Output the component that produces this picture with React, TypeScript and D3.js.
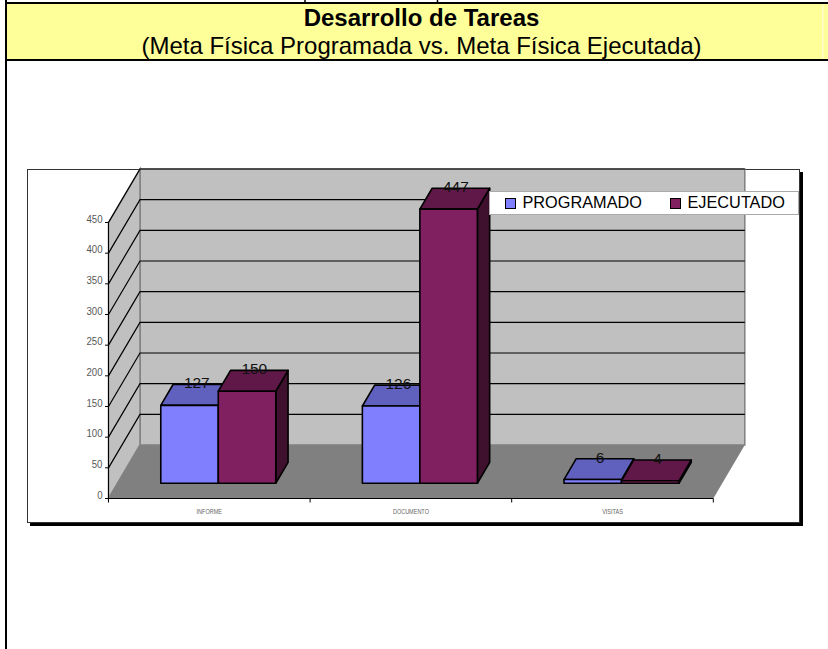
import React from 'react';
import * as d3 from 'd3';

const categories = ['INFORME', 'DOCUMENTO', 'VISITAS'];
const programado = [127, 126, 6];
const ejecutado = [150, 447, 4];
const seriesNames = ['PROGRAMADO', 'EJECUTADO'];
const yTicks = [0, 50, 100, 150, 200, 250, 300, 350, 400, 450];

const x = d3.scaleBand<string>().domain(categories).range([108.5, 713.3]);
const y = d3.scaleLinear().domain([0, 450]).range([498.5, 222.5]);
const DEPTH_X = 31.5;
const DEPTH_Y = 53.5;
// bars stand in the middle of the floor's depth
const DEPTH_NEAR = 0.285;
const DEPTH_FAR = 0.675;
const BAR_W = 57.5;

// 3d oblique projection: px is the front x, v the value, d the depth 0..1
const pt = (px: number, v: number, d: number): [number, number] => [
  px + d * DEPTH_X,
  y(v) - d * DEPTH_Y,
];
const poly = (pts: [number, number][]) => d3.line()(pts) + 'Z';

const colors = [
  { front: '#8080ff', top: '#6060bf', side: '#4c4c99' },
  { front: '#802060', top: '#601848', side: '#40102f' },
];

const Bar = ({ x0, v, c }: { x0: number; v: number; c: (typeof colors)[number] }) => {
  const x1 = x0 + BAR_W;
  const stroke = { stroke: '#000', strokeWidth: 1.6, strokeLinejoin: 'round' as const };
  return (
    <g>
      <path d={poly([pt(x1, 0, DEPTH_NEAR), pt(x1, 0, DEPTH_FAR), pt(x1, v, DEPTH_FAR), pt(x1, v, DEPTH_NEAR)])} fill={c.side} {...stroke} />
      <path d={poly([pt(x0, v, DEPTH_NEAR), pt(x1, v, DEPTH_NEAR), pt(x1, v, DEPTH_FAR), pt(x0, v, DEPTH_FAR)])} fill={c.top} {...stroke} />
      <path d={poly([pt(x0, 0, DEPTH_NEAR), pt(x1, 0, DEPTH_NEAR), pt(x1, v, DEPTH_NEAR), pt(x0, v, DEPTH_NEAR)])} fill={c.front} {...stroke} />
    </g>
  );
};

export default function App() {
  const font = '"Liberation Sans", Arial, sans-serif';
  const [wallL, wallR] = x.range();
  return (
    <svg width={828} height={649} style={{ position: 'absolute', left: 0, top: 0 }} fontFamily={font}>
      <rect width={828} height={649} fill="#fff" />
      {/* header band */}
      <rect x={7} y={4} width={821} height={55} fill="#ffff99" />
      <rect x={822} y={4} width={1.5} height={55} fill="#ffffcc" />
      <path d="M5 3H828M5 60H828" stroke="#000" strokeWidth={2} />
      <path d="M6 0V649" stroke="#000" strokeWidth={2} />
      <path d="M305 0V3M437.5 0V3" stroke="#000" strokeWidth={1.5} />
      <text x={421.5} y={26} textAnchor="middle" fontSize={24} fontWeight="bold">Desarrollo de Tareas</text>
      <text x={421.5} y={54} textAnchor="middle" fontSize={24}>(Meta Física Programada vs. Meta Física Ejecutada)</text>

      {/* chart frame */}
      <rect x={30} y={172} width={773} height={354} fill="#000" />
      <rect x={27.5} y={169.5} width={772} height={353} fill="#fff" stroke="#333" />

      {/* walls and floor */}
      <path d={poly([pt(wallL, 0, 1), pt(wallR, 0, 1), pt(wallR, 450, 1), pt(wallL, 450, 1)])} fill="#c0c0c0" stroke="#808080" strokeWidth={1.5} />
      <path d={poly([pt(wallL, 0, 0), pt(wallL, 0, 1), pt(wallL, 450, 1), pt(wallL, 450, 0)])} fill="#c0c0c0" stroke="#808080" strokeWidth={1.5} />
      <path d={poly([pt(wallL, 0, 0), pt(wallR, 0, 0), pt(wallR, 0, 1), pt(wallL, 0, 1)])} fill="#808080" />

      {yTicks.filter(t => t > 0).map(t => (
        <path key={t} d={d3.line()([pt(wallL, t, 0), pt(wallL, t, 1), pt(wallR, t, 1)]) as string} fill="none" stroke="#000" strokeWidth={1.2} />
      ))}

      {/* y axis */}
      <path d={`M${wallL} ${y(0)}V${y(450)}`} stroke="#000" strokeWidth={1} />
      {yTicks.map(t => (
        <g key={t}>
          <path d={`M${wallL - 3.5} ${y(t)}H${wallL}`} stroke="#000" />
          <text transform={`translate(${wallL - 6},${y(t)}) scale(0.84,1)`} textAnchor="end" fontSize={11.5} fill="#595959">{t}</text>
        </g>
      ))}

      {/* x axis */}
      <path d={`M${wallL} ${y(0)}H${wallR}`} stroke="#000" strokeWidth={1.2} />
      {[...categories.map(c => x(c) as number), wallR].map(px => (
        <path key={px} d={`M${px} ${y(0)}v4`} stroke="#000" />
      ))}
      {categories.map(c => (
        <text key={c} transform={`translate(${(x(c) as number) + x.bandwidth() / 2},514) scale(0.85,1)`} textAnchor="middle" fontSize={6.5} fill="#666">{c}</text>
      ))}

      {/* bars */}
      {categories.map((c, i) => {
        const mid = (x(c) as number) + x.bandwidth() / 2;
        return (
          <g key={c}>
            <Bar x0={mid - BAR_W} v={programado[i]} c={colors[0]} />
            <Bar x0={mid} v={ejecutado[i]} c={colors[1]} />
          </g>
        );
      })}
      {categories.map((c, i) => {
        const mid = (x(c) as number) + x.bandwidth() / 2;
        return [programado[i], ejecutado[i]].map((v, j) => {
          const [lx, ly] = pt(mid + (j - 0.5) * BAR_W, v, DEPTH_FAR);
          return (
            <text key={j} x={lx - 5} y={ly + 4} textAnchor="middle" fontSize={15.5} fill="#111">{v}</text>
          );
        });
      })}

      {/* legend */}
      <rect x={489.5} y={191.5} width={309} height={23} fill="#fff" stroke="#aaa" />
      {seriesNames.map((s, i) => {
        const sx = [505.5, 670.5][i];
        return (
          <g key={s}>
            <rect x={sx} y={198.5} width={10} height={10} fill={colors[i].front} stroke="#000" />
            <text x={sx + 17} y={208} fontSize={16.3}>{s}</text>
          </g>
        );
      })}
    </svg>
  );
}
